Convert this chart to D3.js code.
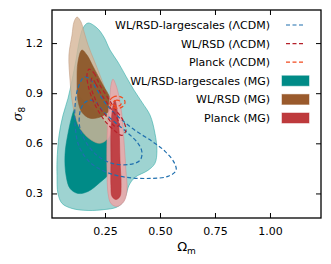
<!DOCTYPE html>
<html>
<head>
<meta charset="utf-8">
<script src="https://cdn.jsdelivr.net/npm/d3@7"></script>
<style>
  body { margin: 0; background: #fff; }
  svg { font-family: 'DejaVu Sans', sans-serif; }
  .axis path, .axis line { stroke: #000; }
</style>
</head>
<body>
<svg id="chart" width="331" height="264"></svg>
<script>
// contour vertices, [Omega_m, sigma_8]
const mgLargeOuter = [[0.173,1.32],[0.214,1.29],[0.245,1.236],[0.273,1.158],[0.309,1.086],[0.345,1.002],[0.382,0.918],[0.418,0.846],[0.455,0.768],[0.477,0.66],[0.486,0.558],[0.477,0.48],[0.445,0.438],[0.386,0.396],[0.359,0.348],[0.345,0.288],[0.327,0.24],[0.3,0.216],[0.25,0.204],[0.173,0.198],[0.1,0.21],[0.055,0.24],[0.036,0.3],[0.032,0.408],[0.032,0.498],[0.041,0.648],[0.059,0.768],[0.082,0.87],[0.1,0.978],[0.118,1.098],[0.132,1.206],[0.15,1.29]];
const mgLargeInner = [[0.132,0.876],[0.173,0.828],[0.227,0.768],[0.264,0.69],[0.282,0.588],[0.282,0.498],[0.273,0.426],[0.227,0.366],[0.173,0.312],[0.127,0.3],[0.091,0.33],[0.073,0.408],[0.068,0.528],[0.082,0.66],[0.105,0.786]];
const mgWlOuter = [[0.123,1.356],[0.141,1.326],[0.155,1.266],[0.173,1.188],[0.2,1.098],[0.227,1.008],[0.255,0.906],[0.277,0.798],[0.282,0.708],[0.264,0.63],[0.227,0.6],[0.182,0.624],[0.136,0.69],[0.114,0.768],[0.1,0.858],[0.091,0.978],[0.086,1.128],[0.1,1.248],[0.109,1.326]];
const mgWlInner = [[0.145,1.158],[0.168,1.128],[0.195,1.062],[0.241,0.948],[0.273,0.87],[0.277,0.81],[0.236,0.762],[0.182,0.75],[0.145,0.786],[0.127,0.858],[0.123,0.978],[0.127,1.086]];
const mgPlanckOuter = [[0.286,0.984],[0.3,0.948],[0.314,0.876],[0.327,0.768],[0.336,0.618],[0.345,0.438],[0.35,0.318],[0.336,0.252],[0.305,0.222],[0.277,0.24],[0.264,0.3],[0.259,0.438],[0.259,0.618],[0.264,0.768],[0.273,0.888],[0.277,0.948]];
const mgPlanckInner = [[0.295,0.858],[0.305,0.798],[0.314,0.678],[0.318,0.498],[0.323,0.348],[0.318,0.282],[0.3,0.264],[0.282,0.282],[0.277,0.348],[0.277,0.498],[0.277,0.678],[0.282,0.786],[0.286,0.822]];
const lcdmLargeOuter = [[0.155,0.996],[0.182,0.984],[0.214,0.918],[0.255,0.834],[0.318,0.75],[0.386,0.678],[0.464,0.612],[0.523,0.552],[0.564,0.486],[0.573,0.438],[0.536,0.402],[0.455,0.39],[0.35,0.396],[0.259,0.426],[0.182,0.486],[0.132,0.582],[0.114,0.708],[0.114,0.828],[0.127,0.93]];
const lcdmLargeInner = [[0.182,0.858],[0.209,0.846],[0.245,0.786],[0.295,0.726],[0.355,0.66],[0.4,0.6],[0.418,0.546],[0.409,0.498],[0.364,0.474],[0.282,0.48],[0.214,0.528],[0.164,0.606],[0.136,0.69],[0.136,0.786],[0.155,0.84]];
const lcdmWlOuter = [[0.177,1.044],[0.2,1.02],[0.227,0.948],[0.264,0.87],[0.3,0.798],[0.332,0.738],[0.345,0.678],[0.327,0.648],[0.291,0.678],[0.255,0.726],[0.223,0.786],[0.195,0.858],[0.173,0.948],[0.168,1.008]];
const lcdmWlInner = [[0.191,0.99],[0.209,0.954],[0.236,0.888],[0.273,0.816],[0.305,0.75],[0.314,0.708],[0.295,0.702],[0.264,0.75],[0.227,0.81],[0.2,0.882],[0.186,0.942]];
const lcdmPlanckOuter = [[0.273,0.858],[0.286,0.876],[0.309,0.882],[0.332,0.87],[0.341,0.846],[0.332,0.822],[0.314,0.81],[0.286,0.816],[0.273,0.834]];
const lcdmPlanckInner = [[0.286,0.846],[0.3,0.858],[0.318,0.852],[0.323,0.834],[0.309,0.822],[0.291,0.828]];

const xTicks = [0.25, 0.5, 0.75, 1.0];
const yTicks = [0.3, 0.6, 0.9, 1.2];

const legendLines = [
  {label: 'WL/RSD-largescales (\u039BCDM)', color: '#1f6fae'},
  {label: 'WL/RSD (\u039BCDM)', color: '#b5202a'},
  {label: 'Planck (\u039BCDM)', color: '#f24a1e'}
];
const legendPatches = [
  {label: 'WL/RSD-largescales (MG)', color: '#008b87'},
  {label: 'WL/RSD (MG)', color: '#9a5a2c'},
  {label: 'Planck (MG)', color: '#be3a3c'}
];

const margin = {top: 10, right: 10, bottom: 46, left: 52};
const svg = d3.select('#chart');
const width = +svg.attr('width') - margin.left - margin.right;
const height = +svg.attr('height') - margin.top - margin.bottom;
const g = svg.append('g').attr('transform', 'translate(' + margin.left + ',' + margin.top + ')');

const x = d3.scaleLinear().domain([0.009, 1.232]).range([0, width]);
const y = d3.scaleLinear().domain([0.153, 1.398]).range([height, 0]);

const line = d3.line()
  .x(d => x(d[0]))
  .y(d => y(d[1]))
  .curve(d3.curveCatmullRomClosed.alpha(0.5));

const plot = g.append('g');
plot.append('clipPath').attr('id', 'clip')
  .append('rect').attr('width', width).attr('height', height);
plot.attr('clip-path', 'url(#clip)');

function filled(pts, fill, op, stroke) {
  plot.append('path').attr('d', line(pts))
    .attr('fill', fill).attr('fill-opacity', op)
    .attr('stroke', stroke).attr('stroke-width', 0.8).attr('stroke-opacity', 0.7);
}
function dashed(pts, color) {
  plot.append('path').attr('d', line(pts))
    .attr('fill', 'none').attr('stroke', color)
    .attr('stroke-width', 1.2).attr('stroke-dasharray', '4,2.5');
}

filled(mgLargeOuter, '#008b87', 0.38, '#2aa8a4');
filled(mgLargeInner, '#008b87', 1, '#008b87');
filled(mgWlOuter, '#d6b597', 0.8, '#c09a80');
filled(mgWlInner, '#8b5526', 0.92, '#8b5526');
filled(mgPlanckOuter, '#eca6a8', 0.85, '#d88a8c');
filled(mgPlanckInner, '#ba2f34', 0.85, '#ba2f34');

dashed(lcdmLargeOuter, legendLines[0].color);
dashed(lcdmLargeInner, legendLines[0].color);
dashed(lcdmWlOuter, legendLines[1].color);
dashed(lcdmWlInner, legendLines[1].color);
dashed(lcdmPlanckOuter, legendLines[2].color);
dashed(lcdmPlanckInner, legendLines[2].color);

// axes, ticks inward on all four sides
const fmtX = d3.format('.2f');
const fmtY = d3.format('.1f');
g.append('g').attr('class', 'axis').attr('transform', 'translate(0,' + height + ')')
  .call(d3.axisBottom(x).tickValues(xTicks).tickFormat(fmtX).tickSizeInner(-5).tickSizeOuter(0).tickPadding(9));
g.append('g').attr('class', 'axis')
  .call(d3.axisTop(x).tickValues(xTicks).tickFormat('').tickSizeInner(-5).tickSizeOuter(0));
g.append('g').attr('class', 'axis')
  .call(d3.axisLeft(y).tickValues(yTicks).tickFormat(fmtY).tickSizeInner(-5).tickSizeOuter(0).tickPadding(9));
g.append('g').attr('class', 'axis').attr('transform', 'translate(' + width + ',0)')
  .call(d3.axisRight(y).tickValues(yTicks).tickFormat('').tickSizeInner(-5).tickSizeOuter(0));
g.selectAll('.axis text').attr('font-size', 11).attr('font-family', 'DejaVu Sans, sans-serif').attr('fill', '#000');
g.selectAll('.axis path.domain').remove();
g.append('rect').attr('width', width).attr('height', height)
  .attr('fill', 'none').attr('stroke', '#000').attr('stroke-width', 1.3);

// axis labels
const xl = g.append('text').attr('x', width / 2).attr('y', height + 33)
  .attr('text-anchor', 'middle').attr('font-size', 13);
xl.append('tspan').text('\u03A9');
xl.append('tspan').attr('font-size', 9).attr('dy', 3).text('m');

const yl = g.append('text')
  .attr('transform', 'translate(-30,' + (height / 2) + ') rotate(-90)')
  .attr('text-anchor', 'middle').attr('font-size', 13);
yl.append('tspan').attr('font-style', 'italic').attr('font-family', 'DejaVu Serif, serif').text('\u03C3');
yl.append('tspan').attr('font-size', 9).attr('dy', 3).text('8');

// legend
const leg = g.append('g').attr('transform', 'translate(' + (width - 51) + ',15)');
const rowH = 18.6;
legendLines.forEach((d, i) => {
  const r = leg.append('g').attr('transform', 'translate(0,' + (i * rowH) + ')');
  r.append('text').attr('x', 0).attr('y', 4).attr('text-anchor', 'end')
    .attr('font-size', 11).text(d.label);
  r.append('line').attr('x1', 16).attr('x2', 35).attr('y1', 0).attr('y2', 0)
    .attr('stroke', d.color).attr('stroke-width', 1.2).attr('stroke-dasharray', '4,2.5');
});
legendPatches.forEach((d, i) => {
  const r = leg.append('g').attr('transform', 'translate(0,' + ((i + 3) * rowH) + ')');
  r.append('text').attr('x', 0).attr('y', 4).attr('text-anchor', 'end')
    .attr('font-size', 11).text(d.label);
  r.append('rect').attr('x', 12).attr('y', -5).attr('width', 27).attr('height', 10)
    .attr('fill', d.color).attr('stroke', d.color).attr('stroke-opacity', 0.5);
});
</script>
</body>
</html>
